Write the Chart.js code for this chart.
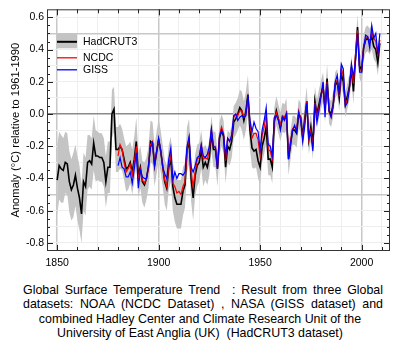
<!DOCTYPE html>
<html><head><meta charset="utf-8">
<script src="https://cdn.jsdelivr.net/npm/chart.js@4.4.1/dist/chart.umd.min.js"></script>
<style>
html,body{margin:0;padding:0;background:#fff;}
#wrap{position:relative;width:400px;height:355px;overflow:hidden;}
#c{position:absolute;left:0;top:0;}
#cap{position:absolute;left:0;top:283px;width:400px;font-family:"Liberation Sans",Arial,sans-serif;font-size:12.4px;line-height:14.4px;color:#000;}
#cap .j{width:360px;margin-left:23px;text-align:justify;text-align-last:justify;white-space:pre-wrap;height:14.4px;}
#cap .m{width:400px;text-align:center;white-space:pre;height:14.4px;}
</style></head><body>
<div id="wrap"><canvas id="c" width="400" height="271"></canvas>
<div id="cap"><div class="j">Global Surface Temperature Trend  : Result from three Global</div><div class="j">datasets: NOAA (NCDC Dataset) , NASA (GISS dataset) and</div><div class="m">combined Hadley Center and Climate Research Unit of the</div><div class="m">University of East Anglia (UK)  (HadCRUT3 dataset)</div></div></div>
<script>
const hadStart = 1850;
const otherStart = 1880;
const seriesNames = ["HadCRUT3", "NCDC", "GISS"];
const xTickLabels = [1850, 1900, 1950, 2000];
const yTickLabels = [0.6, 0.4, 0.2, 0.0, -0.2, -0.4, -0.6, -0.8];
const yTitle = "Anomaly (\u00B0C) relative to 1961-1990";

const hadcrut3 = [
-0.41,-0.32,-0.34,-0.35,-0.30,-0.31,-0.42,-0.47,-0.44,-0.38,
-0.46,-0.52,-0.62,-0.42,-0.45,-0.30,-0.29,-0.31,-0.18,-0.26,
-0.26,-0.27,-0.27,-0.30,-0.42,-0.33,-0.33,0.00,0.03,-0.22,
-0.22,-0.20,-0.22,-0.28,-0.34,-0.33,-0.30,-0.36,-0.28,-0.17,
-0.38,-0.33,-0.42,-0.44,-0.40,-0.33,-0.17,-0.18,-0.32,-0.24,
-0.16,-0.23,-0.32,-0.42,-0.46,-0.33,-0.28,-0.45,-0.52,-0.56,
-0.56,-0.56,-0.48,-0.44,-0.22,-0.17,-0.40,-0.52,-0.38,-0.32,
-0.30,-0.22,-0.33,-0.30,-0.33,-0.27,-0.12,-0.22,-0.22,-0.34,
-0.15,-0.10,-0.14,-0.33,-0.20,-0.22,-0.17,-0.05,-0.03,0.00,
0.04,0.02,-0.04,0.02,0.12,-0.10,-0.21,-0.23,-0.22,-0.29,
-0.33,-0.20,-0.15,-0.08,-0.28,-0.28,-0.33,-0.05,0.02,-0.03,
-0.08,-0.02,-0.03,0.00,-0.28,-0.19,-0.10,-0.10,-0.12,0.00,
-0.02,-0.14,-0.03,0.08,-0.16,-0.08,-0.19,0.08,0.00,0.06,
0.12,0.17,0.04,0.22,0.02,0.00,0.06,0.18,0.20,0.10,
0.25,0.20,0.06,0.11,0.17,0.28,0.14,0.35,0.54,0.30,
0.27,0.41,0.46,0.47,0.45,0.48,0.42,0.40,0.32,0.44];

const hadErr = [
0.22,0.21,0.21,0.20,0.19,0.19,0.19,0.19,0.20,0.19,
0.20,0.20,0.18,0.18,0.18,0.17,0.16,0.16,0.17,0.16,
0.15,0.15,0.15,0.15,0.16,0.16,0.16,0.15,0.14,0.14,
0.14,0.14,0.13,0.13,0.14,0.14,0.13,0.14,0.14,0.15,
0.14,0.13,0.13,0.14,0.13,0.13,0.13,0.13,0.13,0.13,
0.13,0.13,0.13,0.14,0.14,0.14,0.14,0.15,0.15,0.15,
0.15,0.15,0.15,0.14,0.14,0.14,0.14,0.14,0.13,0.13,
0.12,0.12,0.12,0.11,0.11,0.11,0.11,0.11,0.11,0.11,
0.10,0.10,0.10,0.10,0.10,0.10,0.10,0.10,0.10,0.10,
0.11,0.12,0.12,0.12,0.12,0.12,0.12,0.11,0.11,0.11,
0.11,0.10,0.10,0.10,0.10,0.10,0.10,0.09,0.09,0.09,
0.09,0.09,0.09,0.10,0.10,0.09,0.09,0.09,0.09,0.09,
0.09,0.09,0.09,0.09,0.09,0.09,0.09,0.09,0.09,0.09,
0.09,0.09,0.09,0.09,0.08,0.08,0.08,0.08,0.08,0.08,
0.08,0.08,0.08,0.08,0.08,0.08,0.08,0.08,0.08,0.08,
0.08,0.08,0.08,0.08,0.08,0.08,0.08,0.08,0.08,0.08];

const ncdc = [
-0.26,-0.19,-0.22,-0.30,-0.36,-0.34,-0.31,-0.38,-0.30,-0.20,
-0.41,-0.34,-0.41,-0.43,-0.40,-0.33,-0.19,-0.17,-0.32,-0.23,
-0.16,-0.22,-0.33,-0.41,-0.45,-0.32,-0.25,-0.43,-0.45,-0.49,
-0.48,-0.50,-0.45,-0.42,-0.22,-0.15,-0.36,-0.45,-0.36,-0.28,
-0.27,-0.19,-0.28,-0.27,-0.28,-0.22,-0.10,-0.20,-0.20,-0.33,
-0.13,-0.08,-0.12,-0.29,-0.15,-0.17,-0.14,-0.02,0.00,-0.01,
0.02,0.02,-0.02,0.00,0.10,-0.05,-0.15,-0.12,-0.12,-0.16,
-0.26,-0.13,-0.08,0.00,-0.22,-0.23,-0.28,-0.03,0.01,-0.03,
-0.07,-0.01,-0.02,0.01,-0.26,-0.17,-0.09,-0.08,-0.10,0.02,
-0.03,-0.15,-0.05,0.08,-0.16,-0.10,-0.21,0.07,-0.02,0.04,
0.11,0.17,0.02,0.20,0.01,-0.02,0.05,0.19,0.21,0.11,
0.28,0.24,0.06,0.09,0.16,0.29,0.19,0.37,0.52,0.28,
0.27,0.42,0.47,0.48,0.44,0.51,0.47,0.45,0.37,0.46];

const giss = [
-0.32,-0.27,-0.33,-0.34,-0.39,-0.39,-0.36,-0.43,-0.34,-0.24,
-0.46,-0.35,-0.39,-0.40,-0.40,-0.32,-0.21,-0.18,-0.32,-0.23,
-0.15,-0.22,-0.33,-0.37,-0.40,-0.28,-0.21,-0.41,-0.36,-0.40,
-0.37,-0.37,-0.38,-0.36,-0.20,-0.14,-0.33,-0.36,-0.32,-0.27,
-0.26,-0.19,-0.26,-0.27,-0.25,-0.20,-0.09,-0.20,-0.21,-0.34,
-0.14,-0.10,-0.13,-0.26,-0.15,-0.17,-0.13,-0.01,0.00,-0.04,
-0.02,-0.01,-0.02,-0.01,0.12,-0.04,-0.11,-0.05,-0.09,-0.11,
-0.22,-0.10,-0.04,0.04,-0.19,-0.20,-0.26,-0.02,-0.01,-0.04,
-0.10,-0.02,-0.04,0.00,-0.28,-0.18,-0.10,-0.07,-0.11,0.01,
-0.04,-0.17,-0.07,0.07,-0.15,-0.12,-0.23,0.06,-0.05,0.02,
0.11,0.20,-0.02,0.19,0.02,-0.02,0.05,0.20,0.24,0.12,
0.31,0.28,0.05,0.07,0.16,0.31,0.23,0.33,0.50,0.26,
0.26,0.41,0.49,0.48,0.41,0.55,0.47,0.50,0.37,0.50];

const FONT = '"Liberation Sans", Arial, Helvetica, sans-serif';
Chart.defaults.font.family = FONT;
Chart.defaults.color = '#000';

const toPts = (arr, start) => arr.map((v, i) => ({x: start + i, y: v}));
const bandHigh = hadcrut3.map((v, i) => ({x: hadStart + i, y: v + hadErr[i]}));
const bandLow = hadcrut3.map((v, i) => ({x: hadStart + i, y: v - hadErr[i]}));

const isLabelY = v => yTickLabels.some(t => Math.abs(t - v) < 1e-6);
const isLabelX = v => xTickLabels.includes(Math.round(v));

const frame = {
  id: 'frame',
  afterDatasetsDraw(chart) {
    const {ctx, chartArea: a, scales: {x, y}} = chart;
    ctx.save();
    ctx.strokeStyle = '#222';
    ctx.lineWidth = 1;
    ctx.beginPath();
    y.ticks.forEach(t => {
      if (t.value <= y.min + 1e-6 || t.value >= y.max - 1e-6) return;
      const py = Math.round(y.getPixelForValue(t.value)) + 0.5;
      const len = isLabelY(t.value) ? 6 : 3;
      ctx.moveTo(a.left, py); ctx.lineTo(a.left + len, py);
      ctx.moveTo(a.right, py); ctx.lineTo(a.right - len, py);
    });
    x.ticks.forEach(t => {
      const px = Math.round(x.getPixelForValue(t.value)) + 0.5;
      const len = isLabelX(t.value) ? 6 : 4;
      ctx.moveTo(px, a.bottom); ctx.lineTo(px, a.bottom - len);
      ctx.moveTo(px, a.top); ctx.lineTo(px, a.top + len);
    });
    ctx.stroke();
    ctx.strokeStyle = '#333';
    ctx.strokeRect(a.left + 0.5, a.top + 0.5, a.right - a.left - 1, a.bottom - a.top - 1);

    // legend inside plot
    const lx = a.left + 10, lw = 20, tx = lx + lw + 6;
    ctx.fillStyle = '#c4c4c4';
    ctx.fillRect(lx, a.top + 24, lw, 15);
    ctx.lineWidth = 2;
    ctx.strokeStyle = '#000';
    ctx.beginPath(); ctx.moveTo(lx, a.top + 32.5); ctx.lineTo(lx + lw, a.top + 32.5); ctx.stroke();
    ctx.lineWidth = 1.3;
    ctx.strokeStyle = '#ff0000';
    ctx.beginPath(); ctx.moveTo(lx, a.top + 48.5); ctx.lineTo(lx + lw, a.top + 48.5); ctx.stroke();
    ctx.strokeStyle = '#0000ff';
    ctx.beginPath(); ctx.moveTo(lx, a.top + 60.5); ctx.lineTo(lx + lw, a.top + 60.5); ctx.stroke();
    ctx.fillStyle = '#000';
    ctx.font = '10.5px ' + FONT;
    ctx.textBaseline = 'middle';
    ctx.textAlign = 'left';
    ctx.fillText(seriesNames[0], tx, a.top + 33);
    ctx.fillText(seriesNames[1], tx, a.top + 48.5);
    ctx.fillText(seriesNames[2], tx, a.top + 61);
    ctx.restore();
  }
};

new Chart(document.getElementById('c'), {
  type: 'line',
  data: {
    datasets: [
      {label: 'band-high', data: bandHigh, borderWidth: 0, borderColor: 'rgba(0,0,0,0)', backgroundColor: '#c4c4c4', fill: '+1', pointRadius: 0, order: 5},
      {label: 'band-low', data: bandLow, borderWidth: 0, borderColor: 'rgba(0,0,0,0)', backgroundColor: '#c4c4c4', fill: false, pointRadius: 0, order: 4},
      {label: seriesNames[0], data: toPts(hadcrut3, hadStart), borderColor: '#000', borderWidth: 1.6, fill: false, pointRadius: 0, order: 3},
      {label: seriesNames[1], data: toPts(ncdc, otherStart), borderColor: '#ff0000', borderWidth: 1.2, fill: false, pointRadius: 0, order: 2},
      {label: seriesNames[2], data: toPts(giss, otherStart), borderColor: '#0000ff', borderWidth: 1.2, fill: false, pointRadius: 0, order: 1}
    ]
  },
  options: {
    responsive: false,
    animation: false,
    devicePixelRatio: 1,
    parsing: false,
    layout: {padding: {left: 0, right: 10, top: 9, bottom: 0}},
    plugins: {legend: {display: false}, tooltip: {enabled: false}},
    elements: {line: {tension: 0}},
    scales: {
      x: {
        type: 'linear', min: 1845, max: 2014,
        border: {display: false},
        grid: {
          drawTicks: false,
          color: c => isLabelX(c.tick.value) ? '#c8c8c8' : '#eeeeee',
          lineWidth: c => isLabelX(c.tick.value) ? 1.5 : 1
        },
        ticks: {
          stepSize: 10, autoSkip: false, maxRotation: 0, includeBounds: false, padding: 6,
          font: {size: 10.5}, color: '#000',
          callback: v => isLabelX(v) ? String(Math.round(v)) : ''
        },
        afterFit: s => { s.height = 20; }
      },
      y: {
        min: -0.85, max: 0.65,
        border: {display: false},
        grid: {
          drawTicks: false,
          color: c => {
            const r = Math.round(c.tick.value * 100);
            if (r === 0) return '#8a8a8a';
            if (Math.abs(r) === 50) return '#c8c8c8';
            if (r % 10 === 0) return '#eeeeee';
            return 'rgba(0,0,0,0)';
          },
          lineWidth: c => {
            const r = Math.round(c.tick.value * 100);
            return (r === 0 || Math.abs(r) === 50) ? 1.5 : 1;
          }
        },
        ticks: {
          stepSize: 0.05, autoSkip: false, padding: 3,
          font: {size: 10.5}, color: '#000',
          callback: v => isLabelY(v) ? (Math.abs(v) < 1e-6 ? '0.0' : v.toFixed(1)) : ''
        },
        title: {display: true, text: yTitle, font: {size: 11.2}, color: '#000', padding: {top: 9, bottom: 0}},
        afterFit: s => { s.width = 47; }
      }
    }
  },
  plugins: [frame]
});
</script>
</body></html>
